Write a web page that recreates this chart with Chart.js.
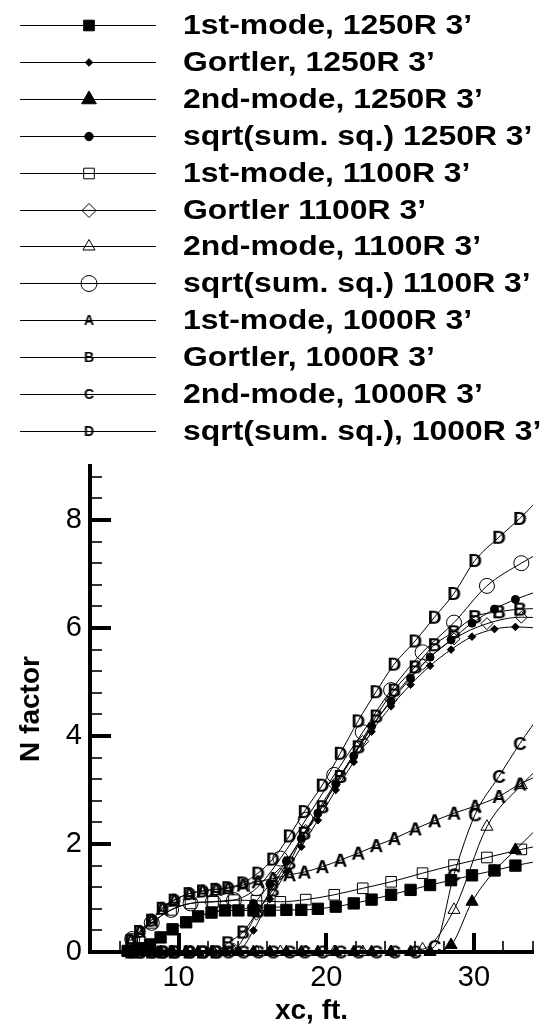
<!DOCTYPE html>
<html>
<head>
<meta charset="utf-8">
<script src="https://cdn.jsdelivr.net/npm/chart.js@4.4.1/dist/chart.umd.min.js"></script>
<style>
  html, body { margin: 0; padding: 0; background: #fff; }
  #wrap { width: 546px; height: 1032px; }
</style>
</head>
<body>
<div id="wrap"><canvas id="nChart"></canvas></div>
<script>
// axis ranges and ticks
const xMin = 4, xMax = 34, yMin = 0, yMax = 9
const xTickLabels = [10, 20, 30]
const yTickLabels = [0, 2, 4, 6, 8]
const xMinorStep = 2
const yMinorStep = 0.4

// stations (xc, ft.)
const x1250 = [6.55, 7.36, 8.07, 8.78, 9.59, 10.51, 11.32, 12.23, 13.14, 14.05, 15.07, 16.18, 17.3, 18.31, 19.43, 20.64, 21.86, 23.07, 24.39, 25.71, 27.03, 28.45, 29.87, 31.39, 32.81, 34.33]
const x1100 = [6.86, 8.18, 9.49, 10.81, 12.33, 13.75, 15.27, 16.89, 18.61, 20.54, 22.47, 24.39, 26.52, 28.65, 30.88, 33.21, 35.54]
const x1000 = [6.76, 7.36, 8.17, 8.89, 9.7, 10.71, 11.62, 12.53, 13.34, 14.36, 15.37, 16.38, 17.5, 18.51, 19.73, 20.95, 22.16, 23.38, 24.6, 26.02, 27.33, 28.65, 30.07, 31.69, 33.11, 34.63]

// N factor, 1250R
const firstMode1250 = [0.02, 0.07, 0.14, 0.27, 0.42, 0.55, 0.66, 0.73, 0.77, 0.77, 0.77, 0.77, 0.78, 0.78, 0.80, 0.84, 0.90, 0.97, 1.06, 1.15, 1.24, 1.33, 1.42, 1.51, 1.60, 1.68]
const gortler1250 = [0, 0, 0, 0, 0, 0, 0, 0, 0, 0.02, 0.40, 0.98, 1.48, 1.95, 2.44, 3.00, 3.52, 4.08, 4.55, 4.95, 5.30, 5.60, 5.84, 5.98, 6.02, 6.00]
const secondMode1250 = [0, 0, 0, 0, 0, 0, 0, 0, 0, 0, 0, 0, 0, 0, 0, 0, 0, 0, 0, 0, 0, 0.13, 0.93, 1.50, 1.89, 2.30]
const sumSq1250 = [0.02, 0.07, 0.14, 0.27, 0.42, 0.55, 0.66, 0.73, 0.77, 0.77, 0.90, 1.26, 1.68, 2.10, 2.57, 3.11, 3.63, 4.18, 4.64, 5.07, 5.46, 5.78, 6.09, 6.35, 6.53, 6.68]

// N factor, 1100R
const firstMode1100 = [0.24, 0.54, 0.78, 0.90, 0.93, 0.96, 0.95, 0.93, 0.97, 1.06, 1.18, 1.30, 1.46, 1.61, 1.75, 1.90, 2.03]
const gortler1100 = [0, 0, 0, 0, 0, 0.05, 0.70, 1.45, 2.25, 3.10, 3.90, 4.67, 5.33, 5.80, 6.08, 6.20, 6.18]
const secondMode1100 = [0, 0, 0, 0, 0, 0, 0, 0, 0, 0, 0, 0, 0.05, 0.78, 2.32, 3.09, 3.70]
const sumSq1100 = [0.24, 0.54, 0.78, 0.90, 0.93, 0.96, 1.18, 1.73, 2.45, 3.28, 4.07, 4.85, 5.55, 6.10, 6.78, 7.20, 7.55]

// N factor, 1000R
const firstMode1000 = [0.21, 0.38, 0.59, 0.81, 0.96, 1.08, 1.13, 1.16, 1.18, 1.24, 1.30, 1.36, 1.43, 1.48, 1.58, 1.70, 1.83, 1.97, 2.10, 2.28, 2.43, 2.57, 2.70, 2.88, 3.11, 3.30]
const gortler1000 = [0, 0, 0, 0, 0, 0, 0, 0, 0.17, 0.37, 0.76, 1.15, 1.65, 2.20, 2.69, 3.25, 3.80, 4.37, 4.85, 5.28, 5.69, 5.93, 6.21, 6.30, 6.35, 6.36]
const secondMode1000 = [0, 0, 0, 0, 0, 0, 0, 0, 0, 0, 0, 0, 0, 0, 0, 0, 0, 0, 0, 0, 0.10, 1.43, 2.54, 3.25, 3.86, 4.45]
const sumSq1000 = [0.21, 0.38, 0.59, 0.81, 0.96, 1.08, 1.13, 1.16, 1.19, 1.28, 1.46, 1.72, 2.15, 2.60, 3.09, 3.68, 4.28, 4.82, 5.33, 5.76, 6.20, 6.64, 7.25, 7.68, 8.03, 8.45]

const FONT = '"Liberation Sans", Arial, sans-serif'

function letterMark (ch, px) {
  const c = document.createElement('canvas')
  c.width = c.height = Math.ceil(px * 1.3)
  const g = c.getContext('2d')
  g.font = 'bold ' + px + 'px ' + FONT
  g.textAlign = 'center'
  g.textBaseline = 'middle'
  g.fillStyle = '#000'
  g.fillText(ch, c.width / 2, c.height / 2 + px * 0.06)
  return c
}

// label, x, y, marker, plot radius, legend radius, filled
const series = [
  ['1st-mode, 1250R 3’', x1250, firstMode1250, 'rect', 8, 7.5, true],
  ['Gortler, 1250R 3’', x1250, gortler1250, 'rectRot', 3.8, 3.8, true],
  ['2nd-mode, 1250R 3’', x1250, secondMode1250, 'triangle', 7, 8.5, true],
  ['sqrt(sum. sq.) 1250R 3’', x1250, sumSq1250, 'circle', 4, 4.2, true],
  ['1st-mode, 1100R 3’', x1100, firstMode1100, 'rect', 7.5, 7.5, false],
  ['Gortler 1100R 3’', x1100, gortler1100, 'rectRot', 6, 7, false],
  ['2nd-mode, 1100R 3’', x1100, secondMode1100, 'triangle', 7, 7, false],
  ['sqrt(sum. sq.) 1100R 3’', x1100, sumSq1100, 'circle', 7.5, 8, false],
  ['1st-mode, 1000R 3’', x1000, firstMode1000, 'A', 8, 8, true],
  ['Gortler, 1000R 3’', x1000, gortler1000, 'B', 8, 8, true],
  ['2nd-mode, 1000R 3’', x1000, secondMode1000, 'C', 8, 8, true],
  ['sqrt(sum. sq.), 1000R 3’', x1000, sumSq1000, 'D', 8, 8, true]
]

const datasets = series.map(([label, xs, ys, mark, r, lr, filled]) => {
  const letter = mark.length === 1
  return {
    label,
    data: xs.map((x, i) => ({ x, y: ys[i] })),
    borderColor: '#000',
    borderWidth: 1,
    cubicInterpolationMode: 'monotone',
    pointStyle: letter ? letterMark(mark, 19) : mark,
    legendStyle: letter ? letterMark(mark, 14) : mark,
    legendRadius: lr,
    pointRadius: ctx => (ctx.raw && ctx.raw.x > xMax) ? 0 : r,
    pointHoverRadius: ctx => (ctx.raw && ctx.raw.x > xMax) ? 0 : r,
    pointBackgroundColor: filled ? '#000' : 'rgba(0,0,0,0)',
    pointBorderColor: '#000',
    pointBorderWidth: 1,
    clip: { left: 12, top: 12, right: 0, bottom: 12 }
  }
})

// inward major + minor ticks, Tecplot style
const tickMarks = {
  id: 'tickMarks',
  afterDraw (chart) {
    const { ctx, chartArea: a, scales: { x, y } } = chart
    ctx.save()
    ctx.strokeStyle = '#000'
    const yTick = (v, len, w) => {
      const p = Math.round(y.getPixelForValue(v))
      ctx.lineWidth = w
      ctx.beginPath(); ctx.moveTo(a.left, p); ctx.lineTo(a.left + len, p); ctx.stroke()
    }
    const xTick = (v, len, w) => {
      const p = Math.round(x.getPixelForValue(v))
      ctx.lineWidth = w
      ctx.beginPath(); ctx.moveTo(p, a.bottom); ctx.lineTo(p, a.bottom - len); ctx.stroke()
    }
    for (let v = yMin + yMinorStep; v < yMax + 1e-6; v += yMinorStep) {
      if (!yTickLabels.some(t => Math.abs(t - v) < 1e-6)) yTick(v, 12, 1.6)
    }
    yTickLabels.forEach(v => yTick(v, 21, 4))
    for (let v = Math.ceil(xMin / xMinorStep) * xMinorStep; v <= xMax + 1e-6; v += xMinorStep) {
      if (!xTickLabels.includes(v)) xTick(v, 11, 1.6)
    }
    xTickLabels.forEach(v => xTick(v, 19, 4))
    ctx.restore()
  }
}

// legend block above the plot (text is a bit wide in the original)
const legendRows = {
  id: 'legendRows',
  afterDraw (chart) {
    const ctx = chart.ctx
    chart.data.datasets.forEach((ds, i) => {
      const y = Math.round(25 + i * 36.9) + 0.5
      ctx.save()
      ctx.strokeStyle = '#000'
      ctx.lineWidth = 1
      ctx.beginPath(); ctx.moveTo(20, y); ctx.lineTo(156, y); ctx.stroke()
      ctx.fillStyle = ds.pointBackgroundColor
      Chart.helpers.drawPoint(ctx, { pointStyle: ds.legendStyle, radius: ds.legendRadius, borderWidth: 1, rotation: 0 }, 89, y)
      ctx.fillStyle = '#000'
      ctx.font = 'bold 28px ' + FONT
      ctx.textBaseline = 'middle'
      ctx.textAlign = 'left'
      ctx.translate(183, y + 1)
      ctx.scale(1.14, 1)
      ctx.fillText(ds.label, 0, 0)
      ctx.restore()
    })
  }
}

new Chart(document.getElementById('nChart'), {
  type: 'line',
  data: { datasets },
  plugins: [tickMarks, legendRows],
  options: {
    responsive: true,
    maintainAspectRatio: false,
    animation: false,
    layout: { padding: { top: 466, right: 13, bottom: 0, left: 0 } },
    plugins: { legend: { display: false }, tooltip: { enabled: false } },
    scales: {
      x: {
        type: 'linear',
        min: xMin,
        max: xMax,
        afterBuildTicks: s => { s.ticks = xTickLabels.map(v => ({ value: v })) },
        afterFit: s => { s.height = 80 },
        grid: { display: false, drawTicks: false },
        border: { display: true, color: '#000', width: 4 },
        ticks: { color: '#000', font: { family: FONT, size: 29 }, padding: 9, maxRotation: 0 },
        title: { display: true, text: 'xc, ft.', color: '#000', font: { family: FONT, size: 28, weight: 'bold' }, padding: { top: 0, bottom: 4 } }
      },
      y: {
        type: 'linear',
        min: yMin,
        max: yMax,
        afterBuildTicks: s => { s.ticks = yTickLabels.map(v => ({ value: v })) },
        afterFit: s => { s.width = 90 },
        grid: { display: false, drawTicks: false },
        border: { display: true, color: '#000', width: 4 },
        ticks: { color: '#000', font: { family: FONT, size: 29 }, padding: 8 },
        title: { display: true, text: 'N factor', color: '#000', font: { family: FONT, size: 28, weight: 'bold' }, padding: { top: 14, bottom: 0 } }
      }
    }
  }
})
</script>
</body>
</html>
